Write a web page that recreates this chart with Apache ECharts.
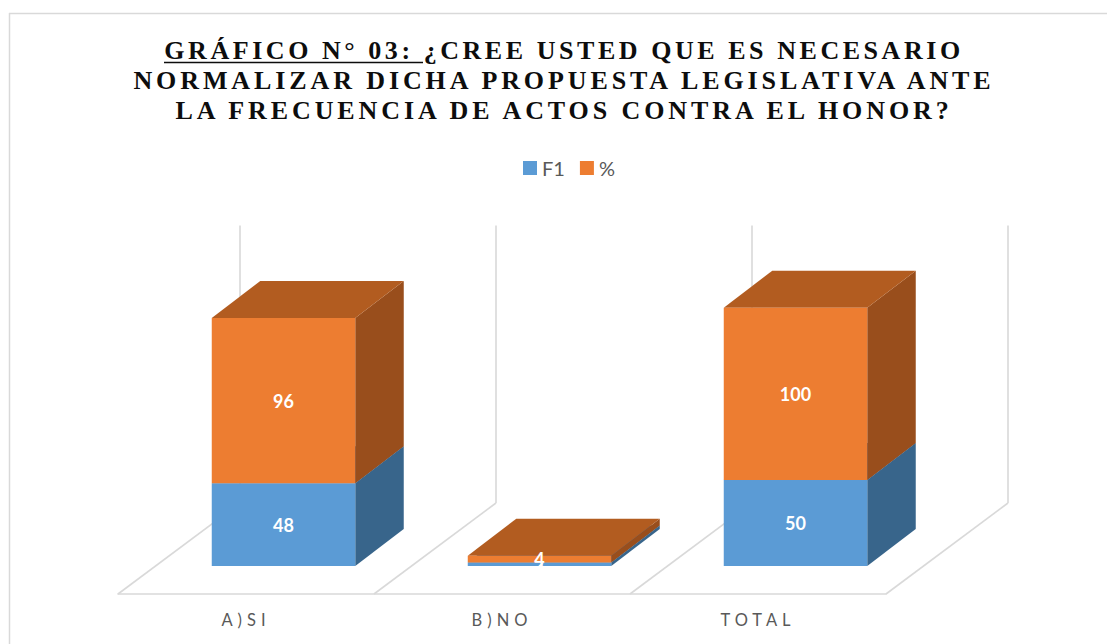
<!DOCTYPE html>
<html>
<head>
<meta charset="utf-8">
<style>
html,body{margin:0;padding:0;background:#fff}
#chart{width:1107px;height:644px}
#chart text[style*="Liberation Serif"]{letter-spacing:3.9px}
#chart text[style*="16.5px"]{letter-spacing:5px}
</style>
<script src="https://cdn.jsdelivr.net/npm/echarts@6/dist/echarts.min.js"></script>
</head>
<body>
<div id="chart"></div>
<script>
var titleLines = ['GRÁFICO N° 03: ¿CREE USTED QUE ES NECESARIO','NORMALIZAR DICHA PROPUESTA LEGISLATIVA ANTE','LA FRECUENCIA DE ACTOS CONTRA EL HONOR?'];
var categories = ['A)SI','B)NO','TOTAL'];
var f1Values = [48, 2, 50];
var pctValues = [96, 4, 100];
var seriesNames = ['F1','%'];

var FRONT_DX = 37.5, FRONT_DY = -28;  // gap between floor front edge and bar front face
var BAR_DX = 48.5, BAR_DY = -37;      // bar depth
var FLOOR_DX = 122, FLOOR_DY = -91;   // floor depth
var BAR_W = 0.5605;                   // share of a category band

function barRenderer(bases, front, top, side) {
  return function (params, api) {
    var i = api.value(0), v = api.value(1), base = bases[i];
    var c0 = api.coord([i, base]), c1 = api.coord([i, base + v]);
    var w = api.size([1, 0])[0] * BAR_W;
    var x0 = c0[0] + FRONT_DX - w / 2, x1 = x0 + w;
    var yb = c0[1] + FRONT_DY, yt = c1[1] + FRONT_DY;
    return {
      type: 'group',
      children: [
        {type:'polygon', shape:{points:[[x1,yb],[x1+BAR_DX,yb+BAR_DY],[x1+BAR_DX,yt+BAR_DY],[x1,yt]]}, style:{fill:side}},
        {type:'polygon', shape:{points:[[x0,yt],[x1,yt],[x1+BAR_DX,yt+BAR_DY],[x0+BAR_DX,yt+BAR_DY]]}, style:{fill:top}},
        {type:'rect', shape:{x:x0,y:yt,width:w,height:yb-yt}, style:{fill:front}},
        {type:'text', z2:10, style:{text:String(v), x:(x0+x1)/2, y:(yt+yb)/2, align:'center', verticalAlign:'middle', fill:'#fff', font:'bold 18px Lato'}}
      ]
    };
  };
}

function floorRenderer(params, api) {
  var b = api.value(0);               // boundary index between categories
  var band = api.size([1, 0])[0];
  var c = api.coord([0, 0]);
  var px = c[0] - band / 2 + b * band, py = c[1];
  var topY = api.coord([0, 160])[1] + FLOOR_DY;
  var ls = {stroke:'#d9d9d9', lineWidth:1.6, fill:'none'};
  return {
    type: 'group',
    children: [
      {type:'line', shape:{x1:px,y1:py,x2:px+FLOOR_DX,y2:py+FLOOR_DY}, style:ls},
      {type:'line', shape:{x1:px+FLOOR_DX,y1:py+FLOOR_DY,x2:px+FLOOR_DX,y2:topY-2}, style:ls}
    ]
  };
}

var chart = echarts.init(document.getElementById('chart'), null, {renderer:'svg', width:1107, height:644});
chart.on('finished', function () {
  var texts = document.querySelectorAll('#chart text');
  for (var i = 0; i < texts.length; i++) {
    if (texts[i].textContent === titleLines[0]) texts[i].style.letterSpacing = '3.55px';
  }
});
chart.setOption({
  animation: false,
  backgroundColor: '#fff',
  title: {
    text: titleLines.join('\n'),
    left: 559, top: 30, textAlign: 'center',
    textStyle: {fontFamily:'Liberation Serif', fontWeight:'bold', fontSize:26, lineHeight:30, color:'#0d0d0d'}
  },
  legend: {
    data: seriesNames, left: 518, top: 153, itemWidth: 14, itemHeight: 14, itemGap: 15, icon: 'rect',
    textStyle: {fontFamily:'Lato', fontSize:20, color:'#595959'}
  },
  grid: {left:118, right:221, top:318.5, bottom:50},
  xAxis: {
    type:'category', data:categories,
    axisTick:{show:false},
    axisLine:{show:true, lineStyle:{color:'#d9d9d9', width:1.6}},
    axisLabel:{margin:17, fontFamily:'Lato', fontSize:16.5, color:'#595959'}
  },
  yAxis: {type:'value', min:0, max:160, interval:20, show:false, splitLine:{show:false}},
  graphic: [
    {type:'line', silent:true, shape:{x1:9,y1:13.5,x2:1107,y2:13.5}, style:{stroke:'#d9d9d9', lineWidth:1.5}},
    {type:'line', silent:true, shape:{x1:9.5,y1:13,x2:9.5,y2:644}, style:{stroke:'#d9d9d9', lineWidth:1.5}},
    {type:'line', silent:true, shape:{x1:164,y1:62.5,x2:423,y2:62.5}, style:{stroke:'#0d0d0d', lineWidth:1.6}}
  ],
  series: [
    {type:'custom', name:'floor', silent:true, z:1, renderItem:floorRenderer, data:[[0],[1],[2],[3]], encode:{x:0}, clip:false},
    {type:'custom', name:seriesNames[0], z:2, clip:false, itemStyle:{color:'#5b9bd5'}, renderItem:barRenderer([0,0,0],'#5b9bd5','#3e6f9e','#38658b'),
      data:f1Values.map(function(v,i){return [i,v];}), encode:{x:0,y:1}},
    {type:'custom', name:seriesNames[1], z:3, clip:false, itemStyle:{color:'#ed7d31'}, renderItem:barRenderer(f1Values,'#ed7d31','#b25c20','#994e1c'),
      data:pctValues.map(function(v,i){return [i,v];}), encode:{x:0,y:1}}
  ]
});
</script>
</body>
</html>
